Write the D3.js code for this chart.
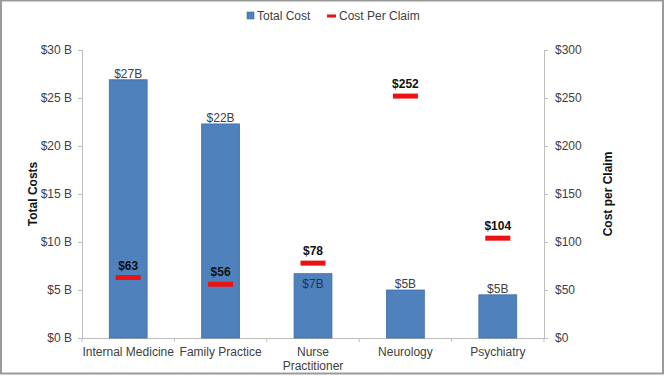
<!DOCTYPE html>
<html>
<head>
<meta charset="utf-8">
<script src="https://cdn.jsdelivr.net/npm/d3@7"></script>
<style>
  body { margin: 0; background: #fff; }
  svg { font-family: "Liberation Sans", Arial, sans-serif; }
</style>
</head>
<body>
<svg id="chart" width="665" height="376"></svg>
<script>
const categories = ["Internal Medicine", "Family Practice", "Nurse Practitioner", "Neurology", "Psychiatry"];
const totalCost = [26.9, 22.3, 6.7, 5.0, 4.5];          // billions
const totalLabels = ["$27B", "$22B", "$7B", "$5B", "$5B"];
const costPerClaim = [63, 56, 78, 252, 104];
const leftTicks = [0, 5, 10, 15, 20, 25, 30];
const rightTicks = [0, 50, 100, 150, 200, 250, 300];

const svg = d3.select("#chart");
const W = 665, H = 376;
const m = { left: 82, right: 121, top: 50, bottom: 38 };

// frame
svg.append("rect").attr("x", 1).attr("y", 0.5).attr("width", W - 3).attr("height", H - 3)
  .attr("fill", "#fff").attr("stroke", "#9a9a9a").attr("stroke-width", 2);

const x = d3.scaleBand().domain(categories).range([m.left, W - m.right]).paddingInner(0.59).paddingOuter(0.295);
const yL = d3.scaleLinear().domain([0, 30]).range([H - m.bottom, m.top]);
const yR = d3.scaleLinear().domain([0, 300]).range([H - m.bottom, m.top]);

const axisColor = "#bdbdbd";
const textColor = "#404040";

// left axis
const gL = svg.append("g").attr("transform", `translate(${m.left},0)`)
  .call(d3.axisLeft(yL).tickValues(leftTicks).tickSize(4).tickPadding(6).tickFormat(d => `$${d} B`));
// right axis
const gR = svg.append("g").attr("transform", `translate(${W - m.right},0)`)
  .call(d3.axisRight(yR).tickValues(rightTicks).tickSize(4).tickPadding(7).tickFormat(d => `$${d}`));
// bottom axis
const gB = svg.append("g").attr("transform", `translate(0,${H - m.bottom})`)
  .call(d3.axisBottom(x).tickSize(0).tickPadding(9));

[gL, gR, gB].forEach(g => {
  g.selectAll(".domain").attr("stroke", axisColor);
  g.selectAll(".tick line").attr("stroke", axisColor);
  g.selectAll("text").attr("fill", textColor).attr("font-size", 12)
    .attr("font-family", "Liberation Sans, Arial, sans-serif");
});

// category boundary ticks
const step = x.step();
const bounds = d3.range(categories.length + 1).map(i => m.left + i * step);
svg.append("g").selectAll("line").data(bounds).join("line")
  .attr("x1", d => d).attr("x2", d => d)
  .attr("y1", H - m.bottom).attr("y2", H - m.bottom + 4)
  .attr("stroke", axisColor);

// wrap two-word "Nurse Practitioner"
gB.selectAll(".tick text").each(function(d) {
  if (d === "Nurse Practitioner") {
    const t = d3.select(this);
    t.text(null);
    t.append("tspan").attr("x", 0).text("Nurse");
    t.append("tspan").attr("x", 0).attr("dy", "1.2em").text("Practitioner");
  }
});

// bars
svg.append("g").selectAll("rect").data(categories).join("rect")
  .attr("x", d => x(d))
  .attr("width", x.bandwidth())
  .attr("y", (d, i) => yL(totalCost[i]))
  .attr("height", (d, i) => yL(0) - yL(totalCost[i]))
  .attr("fill", "#4f81bd")
  .attr("stroke", "#3f6fa8")
  .attr("stroke-width", 0.8);

// bar labels: above the bar, or just inside it when the marker sits right on top
const crowded = i => {
  const gap = yL(totalCost[i]) - yR(costPerClaim[i]);
  return gap > 0 && gap < 16;
};
svg.append("g").selectAll("text").data(categories).join("text")
  .attr("x", d => x(d) + x.bandwidth() / 2)
  .attr("y", (d, i) => crowded(i) ? yL(totalCost[i]) + 14 : yL(totalCost[i]) - 2)
  .attr("text-anchor", "middle")
  .attr("font-size", 12)
  .attr("fill", (d, i) => crowded(i) ? "#1f3550" : textColor)
  .text((d, i) => totalLabels[i]);

// cost per claim markers
const mw = 25;
svg.append("g").selectAll("rect").data(categories).join("rect")
  .attr("x", d => x(d) + x.bandwidth() / 2 - mw / 2)
  .attr("y", (d, i) => yR(costPerClaim[i]) - 2.5)
  .attr("width", mw)
  .attr("height", 5)
  .attr("fill", "#ee1111");

svg.append("g").selectAll("text").data(categories).join("text")
  .attr("x", d => x(d) + x.bandwidth() / 2)
  .attr("y", (d, i) => yR(costPerClaim[i]) - 8)
  .attr("text-anchor", "middle")
  .attr("font-size", 12)
  .attr("font-weight", "bold")
  .attr("fill", "#111")
  .text((d, i) => `$${costPerClaim[i]}`);

// axis titles
svg.append("text")
  .attr("transform", `translate(37,${(m.top + H - m.bottom) / 2}) rotate(-90)`)
  .attr("text-anchor", "middle").attr("font-size", 12).attr("font-weight", "bold").attr("fill", "#111")
  .text("Total Costs");
svg.append("text")
  .attr("transform", `translate(612,${(m.top + H - m.bottom) / 2}) rotate(-90)`)
  .attr("text-anchor", "middle").attr("font-size", 12).attr("font-weight", "bold").attr("fill", "#111")
  .text("Cost per Claim");

// legend
const lg = svg.append("g").attr("transform", "translate(0,16)");
lg.append("rect").attr("x", 247).attr("y", -4).attr("width", 7).attr("height", 7)
  .attr("fill", "#4f81bd").attr("stroke", "#3f6fa8").attr("stroke-width", 0.6);
lg.append("text").attr("x", 257).attr("y", 4).attr("font-size", 12).attr("fill", textColor).text("Total Cost");
lg.append("rect").attr("x", 327).attr("y", -1.5).attr("width", 9).attr("height", 3).attr("fill", "#ee1111");
lg.append("text").attr("x", 339).attr("y", 4).attr("font-size", 12).attr("fill", textColor).text("Cost Per Claim");
</script>
</body>
</html>
